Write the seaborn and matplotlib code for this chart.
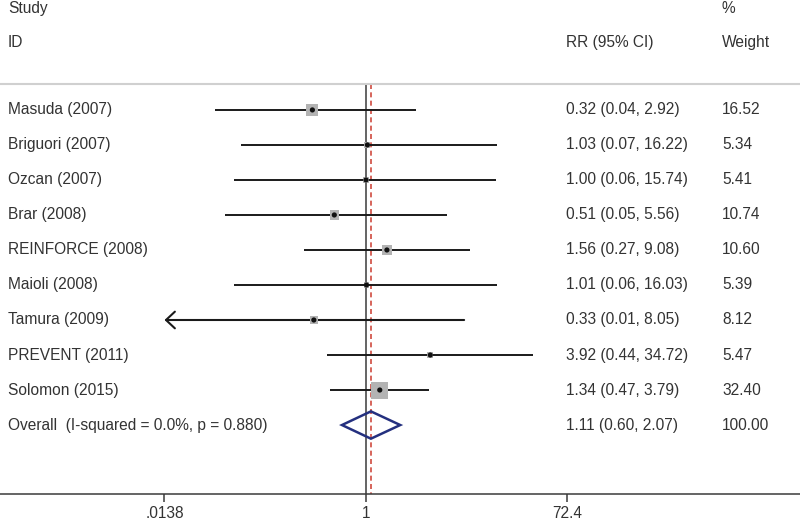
import numpy as np
import pandas as pd
import matplotlib
matplotlib.use('Agg')
import matplotlib.pyplot as plt
import matplotlib.transforms as mtransforms
from matplotlib.patches import Polygon
import seaborn as sns

# Study-level data
studies = ['Masuda (2007)', 'Briguori (2007)', 'Ozcan (2007)', 'Brar (2008)',
           'REINFORCE (2008)', 'Maioli (2008)', 'Tamura (2009)', 'PREVENT (2011)',
           'Solomon (2015)']
rr = [0.32, 1.03, 1.00, 0.51, 1.56, 1.01, 0.33, 3.92, 1.34]
ci_low = [0.04, 0.07, 0.06, 0.05, 0.27, 0.06, 0.01, 0.44, 0.47]
ci_high = [2.92, 16.22, 15.74, 5.56, 9.08, 16.03, 8.05, 34.72, 3.79]
weight = [16.52, 5.34, 5.41, 10.74, 10.60, 5.39, 8.12, 5.47, 32.40]

overall_label = 'Overall  (I-squared = 0.0%, p = 0.880)'
overall_rr = 1.11
overall_low = 0.60
overall_high = 2.07
overall_weight = 100.00

axis_ticks = [0.0138, 1, 72.4]
axis_ticklabels = ['.0138', '1', '72.4']

sns.set_style('white')
plt.rcParams['font.family'] = ['Liberation Sans', 'DejaVu Sans']

TXT = '#333333'
FS = 11.2

df = pd.DataFrame({'study': studies, 'rr': rr, 'lo': ci_low, 'hi': ci_high, 'w': weight})
df['row'] = np.arange(len(df))
n = len(df)

fig = plt.figure(figsize=(8, 5.21), dpi=100)
# axis line sits ~27px above the bottom edge
ax = fig.add_axes([0, 27 / 521, 1, 1 - 27 / 521])
ax.set_xscale('log')
lmin = np.log(axis_ticks[0])
lmax = np.log(axis_ticks[-1])
span = (lmax - lmin) / (567 - 164)  # ln units per pixel
ax.set_xlim(np.exp(-366 * span), np.exp(434 * span))
ax.set_ylim(10.97, -3.14)

# reference line at 1 and dashed line at the pooled estimate
ax.vlines(1, -0.74, 10.97, color='#3a3a3a', lw=1.1, zorder=1)
ax.vlines(overall_rr, -0.74, 10.97, color='#d04a3f', lw=1.2,
          linestyles=(0, (3, 2)), zorder=1)

# confidence intervals, with an arrow when they run off the left end
for _, r in df.iterrows():
    if r['lo'] < axis_ticks[0]:
        ax.annotate('', xy=(axis_ticks[0], r['row']), xytext=(r['hi'], r['row']),
                    arrowprops=dict(arrowstyle='->, head_length=0.32, head_width=0.3',
                                    lw=1.5, color='#1a1a1a',
                                    mutation_scale=20, shrinkA=0, shrinkB=0))
    else:
        ax.hlines(r['row'], r['lo'], r['hi'], color='#1a1a1a', lw=1.4, zorder=2)

# weight boxes and point estimates
sns.scatterplot(data=df, x='rr', y='row', size='w', sizes=(18, 150),
                size_norm=(min(weight), max(weight)), marker='s', color='#b3b3b3',
                edgecolor='none', legend=False, ax=ax, zorder=3)
sns.scatterplot(data=df, x='rr', y='row', marker='o', s=14, color='#111111',
                edgecolor='none', legend=False, ax=ax, zorder=4)

# pooled diamond
dy = 0.39
diamond = Polygon([(overall_low, n), (overall_rr, n - dy), (overall_high, n),
                   (overall_rr, n + dy)], closed=True, fill=False,
                  edgecolor='#24307f', lw=1.8, zorder=4)
ax.add_patch(diamond)

# text columns
tr = mtransforms.blended_transform_factory(ax.transAxes, ax.transData)
xs, xc, xw = 8 / 800, 566 / 800, 722 / 800
ax.text(xs, -2.91, 'Study', transform=tr, fontsize=FS, color=TXT, va='center')
ax.text(xs, -1.94, 'ID', transform=tr, fontsize=FS, color=TXT, va='center')
ax.text(xc, -1.94, 'RR (95% CI)', transform=tr, fontsize=FS, color=TXT, va='center')
ax.text(xw, -2.91, '%', transform=tr, fontsize=FS, color=TXT, va='center')
ax.text(xw, -1.94, 'Weight', transform=tr, fontsize=FS, color=TXT, va='center')
ax.axhline(-0.74, color='#d0d0d0', lw=1.5)

for _, r in df.iterrows():
    ax.text(xs, r['row'], r['study'], transform=tr, fontsize=FS, color=TXT, va='center')
    ax.text(xc, r['row'], f"{r['rr']:.2f} ({r['lo']:.2f}, {r['hi']:.2f})",
            transform=tr, fontsize=FS, color=TXT, va='center')
    ax.text(xw, r['row'], f"{r['w']:.2f}", transform=tr, fontsize=FS, color=TXT, va='center')

ax.text(xs, n, overall_label, transform=tr, fontsize=FS, color=TXT, va='center')
ax.text(xc, n, f"{overall_rr:.2f} ({overall_low:.2f}, {overall_high:.2f})",
        transform=tr, fontsize=FS, color=TXT, va='center')
ax.text(xw, n, f"{overall_weight:.2f}", transform=tr, fontsize=FS, color=TXT, va='center')

# axis styling
for s in ['top', 'left', 'right']:
    ax.spines[s].set_visible(False)
ax.spines['bottom'].set_color('#3a3a3a')
ax.spines['bottom'].set_linewidth(1.1)
ax.set_yticks([])
ax.set_xticks(axis_ticks)
ax.set_xticklabels(axis_ticklabels)
ax.xaxis.set_minor_locator(matplotlib.ticker.NullLocator())
ax.tick_params(axis='x', direction='out', length=6, width=1.1, color='#3a3a3a',
               labelsize=FS, labelcolor=TXT, pad=3, bottom=True)
ax.set_xlabel('')
ax.set_ylabel('')

fig.savefig('out.png', dpi=100)
